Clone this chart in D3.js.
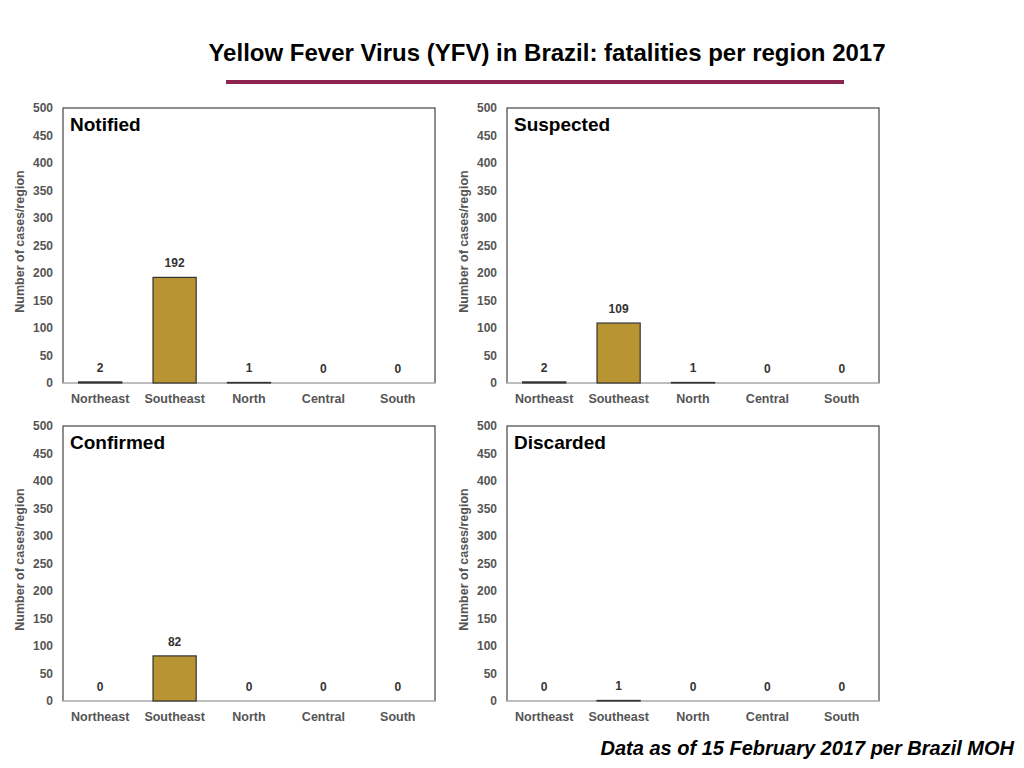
<!DOCTYPE html>
<html>
<head>
<meta charset="UTF-8">
<script src="https://d3js.org/d3.v7.min.js"></script>
<style>
  body { margin: 0; background: #fff; }
  text { font-family: "Liberation Sans", Arial, sans-serif; }
</style>
</head>
<body>
<svg id="chart" width="1024" height="768"></svg>
<script>
var regions = ["Northeast", "Southeast", "North", "Central", "South"];
var panelTitles = ["Notified", "Suspected", "Confirmed", "Discarded"];
var notified  = [2, 192, 1, 0, 0];
var suspected = [2, 109, 1, 0, 0];
var confirmed = [0, 82, 0, 0, 0];
var discarded = [0, 1, 0, 0, 0];
var yTicks = [0, 50, 100, 150, 200, 250, 300, 350, 400, 450, 500];

var series = [notified, suspected, confirmed, discarded];
var origins = [[63, 108], [507, 108], [63, 426], [507, 426]];
var pw = 372, ph = 275;

var svg = d3.select("#chart");

svg.append("text").attr("x", 547).attr("y", 61).attr("text-anchor", "middle")
  .style("font-size", "24px").style("font-weight", "bold").text("Yellow Fever Virus (YFV) in Brazil: fatalities per region 2017");
svg.append("rect").attr("x", 226).attr("y", 80).attr("width", 618).attr("height", 4).attr("fill", "#8c2351");

var x = d3.scaleBand().domain(regions).range([0, pw]).paddingInner(0.42).paddingOuter(0.21);
var y = d3.scaleLinear().domain([0, 500]).range([ph, 0]);

series.forEach(function(vals, i) {
  var g = svg.append("g").attr("transform", "translate(" + origins[i][0] + "," + origins[i][1] + ")");
  g.append("rect").attr("width", pw).attr("height", ph).attr("fill", "none").attr("stroke", "#444").attr("stroke-width", 1.2);
  g.append("line").attr("x1", 0).attr("x2", pw).attr("y1", ph).attr("y2", ph).attr("stroke", "#ccc").attr("stroke-width", 1.5);

  var ya = g.append("g").call(d3.axisLeft(y).tickValues(yTicks).tickSize(0).tickPadding(10));
  ya.select(".domain").remove();
  ya.selectAll("text").style("font-size", "12px").style("font-weight", "bold").attr("fill", "#555")
    .style("font-family", "Liberation Sans, Arial, sans-serif");

  var xa = g.append("g").attr("transform", "translate(0," + ph + ")").call(d3.axisBottom(x).tickSize(0).tickPadding(11));
  xa.select(".domain").remove();
  xa.selectAll("text").style("font-size", "12.5px").style("font-weight", "bold").attr("fill", "#555")
    .style("font-family", "Liberation Sans, Arial, sans-serif");

  g.append("text").attr("transform", "translate(-39," + (ph / 2 - 4) + ") rotate(-90)").attr("text-anchor", "middle")
    .style("font-size", "12.5px").style("font-weight", "bold").attr("fill", "#555").text("Number of cases/region");

  g.append("text").attr("x", 7).attr("y", 23).style("font-size", "19px").style("font-weight", "bold").text(panelTitles[i]);

  g.selectAll(".bar").data(vals).enter().append("rect")
    .attr("x", function(d, j) { return x(regions[j]); })
    .attr("width", x.bandwidth())
    .attr("y", function(d) { return y(d); })
    .attr("height", function(d) { return ph - y(d); })
    .attr("fill", "#b89432").attr("stroke", function(d) { return d > 0 ? "#333" : "none"; }).attr("stroke-width", 1.2);

  g.selectAll(".lbl").data(vals).enter().append("text")
    .attr("x", function(d, j) { return x(regions[j]) + x.bandwidth() / 2; })
    .attr("y", function(d) { return y(d) - 10; })
    .attr("text-anchor", "middle").style("font-size", "12px").style("font-weight", "bold").attr("fill", "#333")
    .text(function(d) { return d; });
});

svg.append("text").attr("x", 1014).attr("y", 755).attr("text-anchor", "end")
  .style("font-size", "20px").style("font-weight", "bold").style("font-style", "italic").text("Data as of 15 February 2017 per Brazil MOH");
</script>
</body>
</html>
